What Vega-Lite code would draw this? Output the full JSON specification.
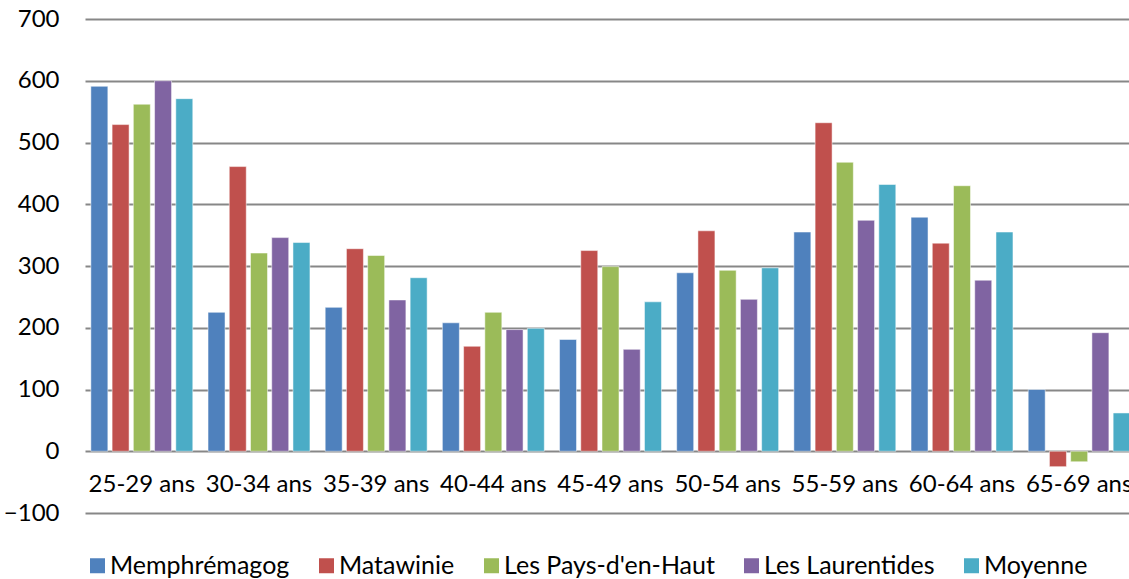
{
  "$schema": "https://vega.github.io/schema/vega-lite/v6.json",
  "autosize": {"type": "none"},
  "width": 1044,
  "height": 494,
  "padding": {"left": 85, "top": 19, "right": 0, "bottom": 66},
  "background": "white",
  "config": {
    "view": {"stroke": null},
    "font": "Lato"
  },
  "data": {
    "values": [
      {"age": "25-29 ans", "region": "Memphrémagog", "value": 591},
      {"age": "25-29 ans", "region": "Matawinie", "value": 529},
      {"age": "25-29 ans", "region": "Les Pays-d'en-Haut", "value": 562},
      {"age": "25-29 ans", "region": "Les Laurentides", "value": 600},
      {"age": "25-29 ans", "region": "Moyenne", "value": 571},
      {"age": "30-34 ans", "region": "Memphrémagog", "value": 225},
      {"age": "30-34 ans", "region": "Matawinie", "value": 461},
      {"age": "30-34 ans", "region": "Les Pays-d'en-Haut", "value": 321},
      {"age": "30-34 ans", "region": "Les Laurentides", "value": 346},
      {"age": "30-34 ans", "region": "Moyenne", "value": 338},
      {"age": "35-39 ans", "region": "Memphrémagog", "value": 233},
      {"age": "35-39 ans", "region": "Matawinie", "value": 328},
      {"age": "35-39 ans", "region": "Les Pays-d'en-Haut", "value": 317},
      {"age": "35-39 ans", "region": "Les Laurentides", "value": 245},
      {"age": "35-39 ans", "region": "Moyenne", "value": 281},
      {"age": "40-44 ans", "region": "Memphrémagog", "value": 208},
      {"age": "40-44 ans", "region": "Matawinie", "value": 170},
      {"age": "40-44 ans", "region": "Les Pays-d'en-Haut", "value": 225},
      {"age": "40-44 ans", "region": "Les Laurentides", "value": 197},
      {"age": "40-44 ans", "region": "Moyenne", "value": 199},
      {"age": "45-49 ans", "region": "Memphrémagog", "value": 181},
      {"age": "45-49 ans", "region": "Matawinie", "value": 325},
      {"age": "45-49 ans", "region": "Les Pays-d'en-Haut", "value": 299},
      {"age": "45-49 ans", "region": "Les Laurentides", "value": 165},
      {"age": "45-49 ans", "region": "Moyenne", "value": 242},
      {"age": "50-54 ans", "region": "Memphrémagog", "value": 289},
      {"age": "50-54 ans", "region": "Matawinie", "value": 357},
      {"age": "50-54 ans", "region": "Les Pays-d'en-Haut", "value": 293},
      {"age": "50-54 ans", "region": "Les Laurentides", "value": 246},
      {"age": "50-54 ans", "region": "Moyenne", "value": 297},
      {"age": "55-59 ans", "region": "Memphrémagog", "value": 355},
      {"age": "55-59 ans", "region": "Matawinie", "value": 532},
      {"age": "55-59 ans", "region": "Les Pays-d'en-Haut", "value": 468},
      {"age": "55-59 ans", "region": "Les Laurentides", "value": 374},
      {"age": "55-59 ans", "region": "Moyenne", "value": 432},
      {"age": "60-64 ans", "region": "Memphrémagog", "value": 379},
      {"age": "60-64 ans", "region": "Matawinie", "value": 337},
      {"age": "60-64 ans", "region": "Les Pays-d'en-Haut", "value": 430},
      {"age": "60-64 ans", "region": "Les Laurentides", "value": 277},
      {"age": "60-64 ans", "region": "Moyenne", "value": 355},
      {"age": "65-69 ans", "region": "Memphrémagog", "value": 100},
      {"age": "65-69 ans", "region": "Matawinie", "value": -25},
      {"age": "65-69 ans", "region": "Les Pays-d'en-Haut", "value": -17},
      {"age": "65-69 ans", "region": "Les Laurentides", "value": 192},
      {"age": "65-69 ans", "region": "Moyenne", "value": 62}
    ]
  },
  "mark": {"type": "bar", "clip": true, "stroke": "#ffffff", "strokeOpacity": 0.5, "strokeWidth": 1},
  "encoding": {
    "x": {
      "field": "age",
      "type": "nominal",
      "sort": null,
      "title": null,
      "scale": {"range": [0, 1051], "paddingInner": 0.13, "paddingOuter": 0.05},
      "axis": {
        "labelAngle": 0,
        "domain": false,
        "ticks": false,
        "offset": -62,
        "labelPadding": 21,
        "labelFontSize": 24,
        "labelColor": "#000000",
        "grid": false
      }
    },
    "xOffset": {
      "field": "region",
      "type": "nominal",
      "sort": ["Memphrémagog", "Matawinie", "Les Pays-d'en-Haut", "Les Laurentides", "Moyenne"],
      "scale": {"paddingInner": 0.2}
    },
    "y": {
      "field": "value",
      "type": "quantitative",
      "title": null,
      "scale": {"domain": [-100, 700], "nice": false},
      "axis": {
        "values": [-100, 0, 100, 200, 300, 400, 500, 600, 700],
        "domain": false,
        "ticks": false,
        "labelPadding": 26,
        "labelFontSize": 24,
        "labelColor": "#000000",
        "gridColor": "#878787",
        "gridWidth": 2
      }
    },
    "color": {
      "field": "region",
      "type": "nominal",
      "sort": ["Memphrémagog", "Matawinie", "Les Pays-d'en-Haut", "Les Laurentides", "Moyenne"],
      "scale": {
        "domain": ["Memphrémagog", "Matawinie", "Les Pays-d'en-Haut", "Les Laurentides", "Moyenne"],
        "range": ["#4F81BD", "#C0504D", "#9BBB59", "#8064A2", "#4BACC6"]
      },
      "legend": {
        "title": null,
        "orient": "bottom",
        "direction": "horizontal",
        "symbolType": "square",
        "symbolSize": 225,
        "symbolStrokeWidth": 0,
        "labelFontSize": 25,
        "labelColor": "#000000",
        "labelOffset": 0,
        "columnPadding": 24,
        "offset": 40,
        "padding": 0,
        "labelLimit": 400
      }
    }
  }
}
